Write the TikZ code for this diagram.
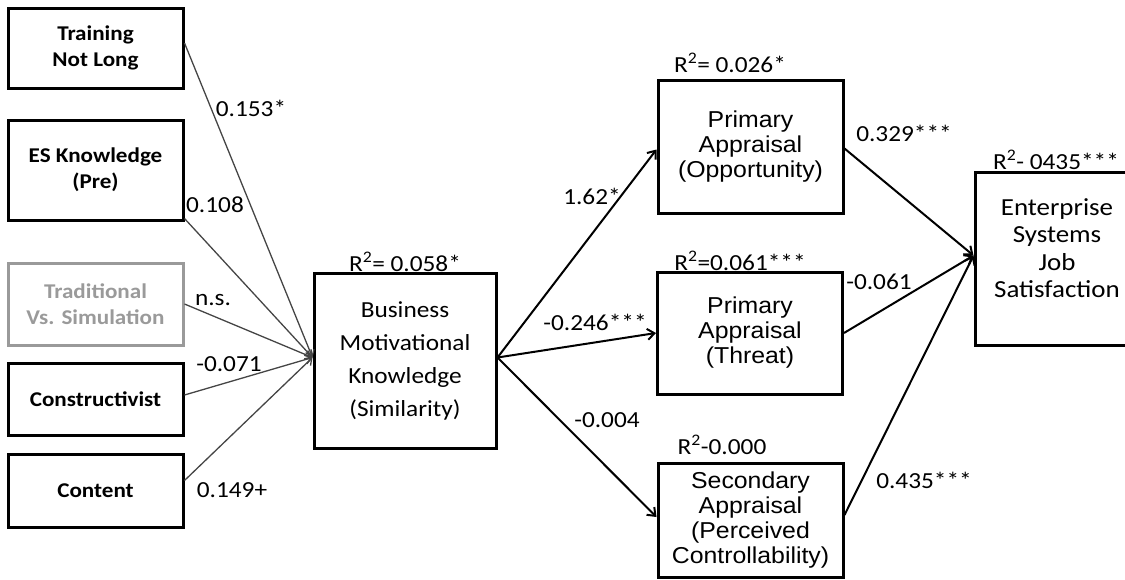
\documentclass[tikz,border=0pt]{standalone}
\usepackage{fontspec}
\setmainfont[FakeStretch=1.1]{Carlito}
\newfontfamily\arialf[FakeStretch=1.08]{Liberation Sans}
\usetikzlibrary{arrows.meta}
\definecolor{lgray}{HTML}{454545}
\definecolor{fgray}{HTML}{9A9A9A}
\begin{document}
\begin{tikzpicture}[x=1pt,y=-1pt,
  box/.style={draw=black,line width=3pt,align=center,inner sep=0pt},
  lbox/.style={box,minimum width=175pt,font=\fontsize{21}{26}\selectfont\bfseries},
  abox/.style={box,minimum width=185pt,font=\arialf\fontsize{23}{25}\selectfont},
  lab/.style={inner sep=0pt,font=\fontsize{23}{26}\selectfont},
  inarrow/.style={draw=lgray,line width=1.3pt,-{Straight Barb[length=6pt,width=9pt]}},
  outarrow/.style={draw=black,line width=2pt,-{Straight Barb[length=7pt,width=11pt]}}
]
\useasboundingbox (0,0) rectangle (1125,579);

% left predictor boxes
\node[lbox,minimum height=80pt] (tnl) at (95.5,48) {Training\\Not Long};
\node[lbox,minimum height=100pt] (esk) at (95.5,170) {ES Knowledge\\(Pre)};
\node[lbox,minimum height=82pt,draw=fgray,text=fgray] (tvs) at (95.5,304) {Traditional\\Vs. Simulation};
\node[lbox,minimum height=72pt] (con) at (95.5,399) {Constructivist};
\node[lbox,minimum height=73pt] (cnt) at (95.5,490.5) {Content};

% mediator
\node[box,minimum width=182pt,minimum height=175pt,font=\fontsize{23}{33}\selectfont] (bus) at (405,360.5) {Business\\Motivational\\Knowledge\\(Similarity)};

% appraisals
\node[abox,minimum height=133pt] (opp) at (750.5,146.5) {Primary\\Appraisal\\(Opportunity)};
\node[abox,minimum height=122pt] (thr) at (750,333) {Primary\\Appraisal\\(Threat)};
\node[abox,minimum height=114pt] (sec) at (750.5,520) {Secondary\\Appraisal\\(Perceived\\Controllability)};

% outcome
\node[box,minimum width=164pt,minimum height=173pt] (ent) at (1057,258.5) {};
\node[inner sep=0pt,align=center,font=\fontsize{24.5}{27.5}\selectfont] (entt) at (1057,248) {Enterprise\\Systems\\Job\\Satisfaction};

% connection points
\coordinate (busin) at ([yshift=3pt]bus.west);
\coordinate (busout) at ([yshift=3pt]bus.east);
\coordinate (entin) at ([yshift=3pt]ent.west);

% left arrows
\draw[inarrow] ([yshift=5pt]tnl.east) -- (busin);
\draw[inarrow] ([yshift=3pt]esk.south east) -- (busin);
\draw[inarrow] (tvs.east) -- (busin);
\draw[inarrow] ([yshift=4pt]con.east) -- (busin);
\draw[inarrow] ([yshift=10pt]cnt.east) -- (busin);

% right arrows
\draw[outarrow] (busout) -- ([yshift=-3pt]opp.west);
\draw[outarrow] (busout) -- (thr.west);
\draw[outarrow] (busout) -- ([yshift=3pt]sec.west);
\draw[outarrow] ([yshift=-2pt]opp.east) -- (entin);
\draw[outarrow] (thr.east) -- (entin);
\draw[outarrow] ([yshift=5pt]sec.east) -- (entin);

% path labels
\node[lab] (l1) at (251,108) {0.153*};
\node[lab] (l2) at (215,205) {0.108};
\node[lab] (l3) at (213,300) {n.s.};
\node[lab] (l4) at (229,364) {-0.071};
\node[lab] (l5) at (232,490) {0.149+};
\node[lab] (l6) at (592,196) {1.62*};
\node[lab] (l7) at (595,322) {-0.246***};
\node[lab] (l8) at (607,420) {-0.004};
\node[lab] (l9) at (904,133) {0.329***};
\node[lab] (l10) at (879,282) {-0.061};
\node[lab] (l11) at (924,480) {0.435***};

% R-squared labels
\node[lab] (r1) at (405,262) {R\textsuperscript{2}= 0.058*};
\node[lab] (r2) at (730,63) {R\textsuperscript{2}= 0.026*};
\node[lab] (r3) at (740,261) {R\textsuperscript{2}=0.061***};
\node[lab] (r4) at (722,445) {R\textsuperscript{2}-0.000};
\node[lab] (r5) at (1056,160) {R\textsuperscript{2}- 0435***};
\end{tikzpicture}
\end{document}
